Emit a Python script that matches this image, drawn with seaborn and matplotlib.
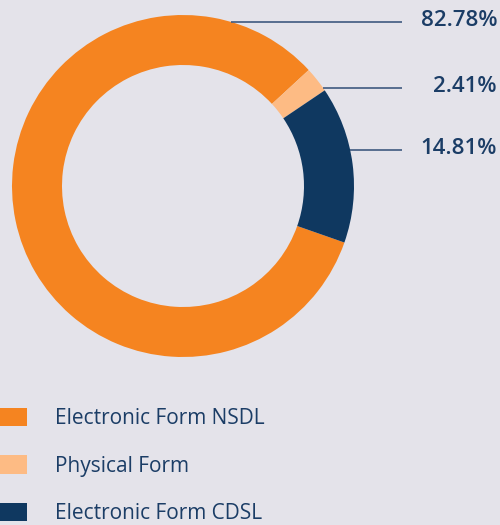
import numpy as np
import matplotlib.pyplot as plt
import seaborn as sns
from matplotlib.patches import Patch

# Data
categories = ["Electronic Form NSDL", "Physical Form", "Electronic Form CDSL"]
shares = [82.78, 2.41, 14.81]
share_labels = ["82.78%", "2.41%", "14.81%"]
colors = ["#f58420", "#fdbb84", "#0f3860"]

bg = "#e4e3ea"
text_color = "#1b3d66"
line_color = "#3f5a80"

sns.set_style("white")
plt.rcParams["font.family"] = ["Open Sans", "DejaVu Sans"]

fig = plt.figure(figsize=(5, 5.25), dpi=100, facecolor=bg)
ax = fig.add_axes([0, 0, 1, 1])
ax.set_facecolor(bg)

# donut in pixel-like coordinates (y up)
cx, cy, R, ring = 183, 525 - 186, 171, 50
wedges, _ = ax.pie(
    shares,
    colors=colors,
    center=(cx, cy),
    radius=R,
    startangle=-19.3,
    counterclock=False,
    wedgeprops=dict(width=ring, linewidth=0),
)
ax.set_xlim(0, 500)
ax.set_ylim(0, 525)
ax.set_aspect("equal")
ax.axis("off")

# leader lines + value labels, starting on the outer ring edge
label_y = [525 - 22, 525 - 88, 525 - 150]
for y, txt in zip(label_y, share_labels):
    x0 = cx + np.sqrt(R ** 2 - (y - cy) ** 2)
    ax.plot([x0, 402], [y, y], color=line_color, lw=1.2, solid_capstyle="butt")
    ax.text(497, y + 1, txt, ha="right", va="center", fontsize=16,
            fontweight="semibold", color=text_color)

# legend
handles = [Patch(facecolor=c, edgecolor="none", label=l) for c, l in zip(colors, categories)]
fig.legend(
    handles=handles,
    loc="center left",
    bbox_to_anchor=(0.0, (525 - 466) / 525),
    frameon=False,
    fontsize=15,
    handlelength=1.3,
    handleheight=0.98,
    handletextpad=1.35,
    labelspacing=1.25,
    borderpad=0,
    borderaxespad=0,
    labelcolor=text_color,
)

fig.savefig("out.png", dpi=100, facecolor=bg)
